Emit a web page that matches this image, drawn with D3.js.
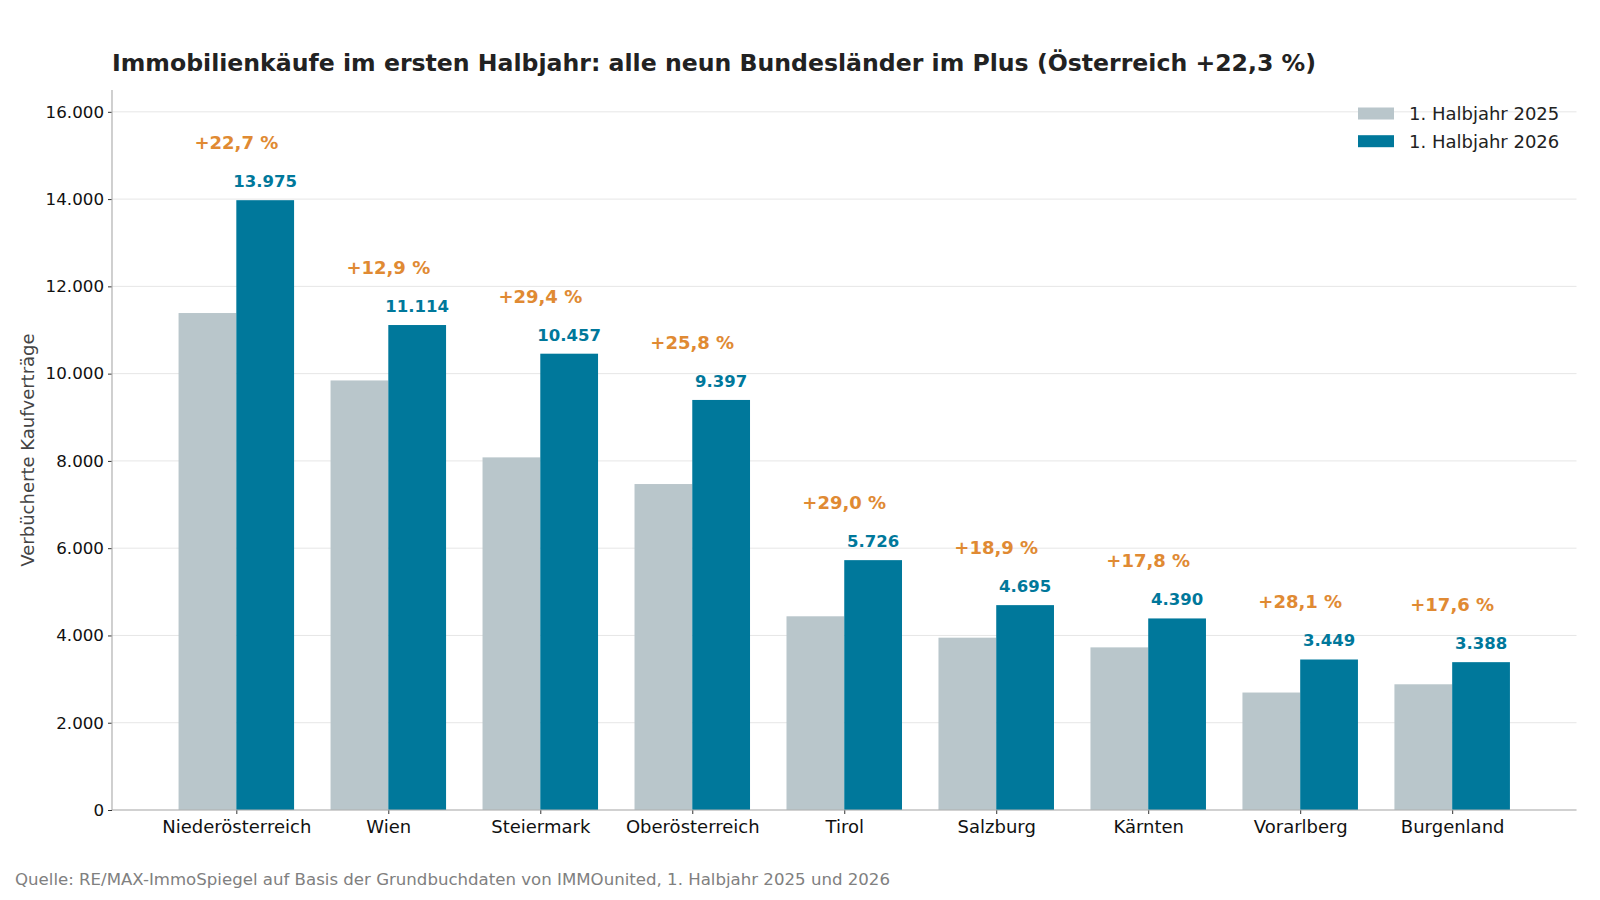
<!DOCTYPE html>
<html>
<head>
<meta charset="utf-8">
<script src="https://cdn.jsdelivr.net/npm/d3@7"></script>
<style>
  html, body { margin: 0; padding: 0; background: #fff; }
  svg { display: block; font-family: "DejaVu Sans", sans-serif; }
</style>
</head>
<body>
<svg id="chart" width="1600" height="900"></svg>
<script>
const categories = ["Niederösterreich", "Wien", "Steiermark", "Oberösterreich", "Tirol", "Salzburg", "Kärnten", "Vorarlberg", "Burgenland"];
const values2025 = [11389, 9844, 8081, 7470, 4439, 3949, 3727, 2692, 2881];
const values2026 = [13975, 11114, 10457, 9397, 5726, 4695, 4390, 3449, 3388];
const changeLabels = ["+22,7 %", "+12,9 %", "+29,4 %", "+25,8 %", "+29,0 %", "+18,9 %", "+17,8 %", "+28,1 %", "+17,6 %"];
const yTicks = [0, 2000, 4000, 6000, 8000, 10000, 12000, 14000, 16000];
const seriesNames = ["1. Halbjahr 2025", "1. Halbjahr 2026"];
const titleText = "Immobilienkäufe im ersten Halbjahr: alle neun Bundesländer im Plus (Österreich +22,3 %)";
const yLabelText = "Verbücherte Kaufverträge";
const sourceText = "Quelle: RE/MAX-ImmoSpiegel auf Basis der Grundbuchdaten von IMMOunited, 1. Halbjahr 2025 und 2026";

const colGray = "#b9c6cb";
const colBlue = "#00789b";
const colOrange = "#e08a33";

const svg = d3.select("#chart");
const L = 112, R = 1576.5, T = 90, B = 810;
const barW = 0.38;

const x = d3.scaleLinear().domain([-0.818, 8.818]).range([L, R]);
const y = d3.scaleLinear().domain([0, 16500]).range([B, T]);
const fmt = d3.formatLocale({decimal: ",", thousands: ".", grouping: [3], currency: ["", "€"]}).format(",d");

// grid
svg.append("g").selectAll("line").data(yTicks).join("line")
  .attr("x1", L).attr("x2", R)
  .attr("y1", d => y(d)).attr("y2", d => y(d))
  .attr("stroke", "#e6e6e6").attr("stroke-width", 1);

// bars
const idx = d3.range(categories.length);
svg.append("g").selectAll("rect").data(idx).join("rect")
  .attr("x", i => x(i - barW)).attr("width", i => x(i) - x(i - barW))
  .attr("y", i => y(values2025[i])).attr("height", i => y(0) - y(values2025[i]))
  .attr("fill", colGray);
svg.append("g").selectAll("rect").data(idx).join("rect")
  .attr("x", i => x(i)).attr("width", i => x(i + barW) - x(i))
  .attr("y", i => y(values2026[i])).attr("height", i => y(0) - y(values2026[i]))
  .attr("fill", colBlue);

// value labels
svg.append("g").selectAll("text").data(idx).join("text")
  .attr("x", i => x(i + barW / 2)).attr("y", i => y(values2026[i]) - 13)
  .attr("text-anchor", "middle").attr("font-size", 16.5).attr("font-weight", "bold")
  .attr("fill", colBlue).text(i => fmt(values2026[i]));

// change labels
svg.append("g").selectAll("text").data(idx).join("text")
  .attr("x", i => x(i)).attr("y", i => y(values2026[i]) - 51)
  .attr("text-anchor", "middle").attr("font-size", 18).attr("font-weight", "bold")
  .attr("fill", colOrange).text(i => changeLabels[i]);

// axes
const yAxis = d3.axisLeft(y).tickValues(yTicks).tickFormat(fmt).tickSizeOuter(0).tickSize(4).tickPadding(4);
const gy = svg.append("g").attr("transform", `translate(${L},0)`).call(yAxis);
gy.select(".domain").remove();
gy.selectAll(".tick line").attr("stroke", "#333");
gy.selectAll(".tick text").attr("font-size", 16.7).attr("fill", "#111").attr("font-family", "DejaVu Sans");

const xAxis = d3.axisBottom(x).tickValues(idx).tickFormat(i => categories[i]).tickSizeOuter(0).tickSize(4).tickPadding(6);
const gx = svg.append("g").attr("transform", `translate(0,${B})`).call(xAxis);
gx.select(".domain").remove();
gx.selectAll(".tick line").attr("stroke", "#333");
gx.selectAll(".tick text").attr("font-size", 18).attr("fill", "#111").attr("font-family", "DejaVu Sans");

// spines
svg.append("line").attr("x1", L).attr("x2", L).attr("y1", T).attr("y2", B).attr("stroke", "#b0b0b0").attr("stroke-width", 1.2);
svg.append("line").attr("x1", L).attr("x2", R).attr("y1", B).attr("y2", B).attr("stroke", "#b0b0b0").attr("stroke-width", 1.2);

// y label
svg.append("text").attr("transform", `translate(34,${(T + B) / 2}) rotate(-90)`)
  .attr("text-anchor", "middle").attr("font-size", 18).attr("fill", "#444").text(yLabelText);

// title
svg.append("text").attr("x", 112).attr("y", 71).attr("font-size", 23.6).attr("font-weight", "bold")
  .attr("fill", "#222").text(titleText);

// legend
const lg = svg.append("g");
const legendColors = [colGray, colBlue];
seriesNames.forEach((name, k) => {
  const cy = 113.5 + k * 27.7;
  lg.append("rect").attr("x", 1358).attr("y", cy - 6).attr("width", 36).attr("height", 12).attr("fill", legendColors[k]);
  lg.append("text").attr("x", 1409).attr("y", cy + 6.5).attr("font-size", 18).attr("fill", "#222").text(name);
});

// source
svg.append("text").attr("x", 15).attr("y", 885).attr("font-size", 16.6).attr("fill", "#808080").text(sourceText);
</script>
</body>
</html>
